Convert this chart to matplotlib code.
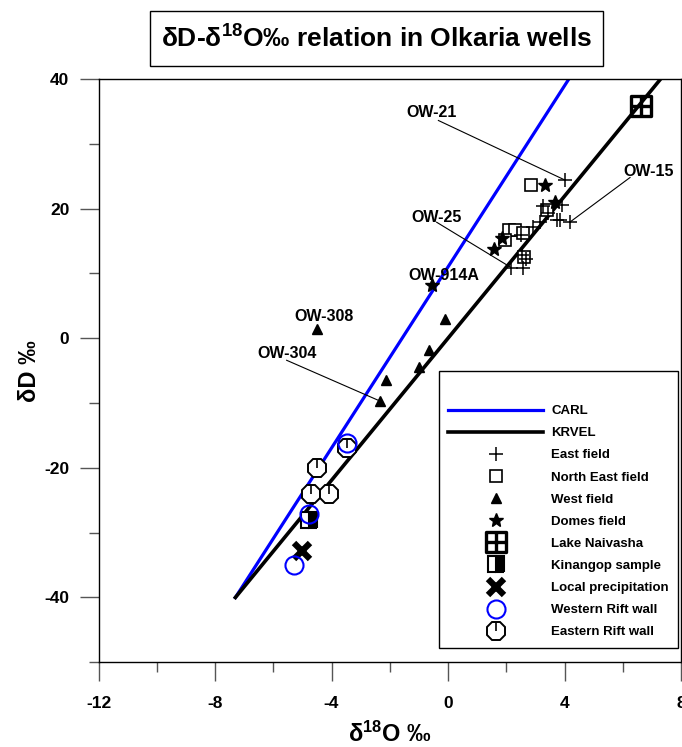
import numpy as np
import matplotlib
matplotlib.use("Agg")
import matplotlib.pyplot as plt
from matplotlib.path import Path
from matplotlib.patches import Rectangle

plt.rcParams["font.family"] = ["Liberation Sans", "DejaVu Sans"]
plt.rcParams["font.weight"] = "bold"
plt.rcParams["axes.unicode_minus"] = False
plt.rcParams["mathtext.fontset"] = "custom"
plt.rcParams["mathtext.rm"] = "Liberation Sans:bold"
plt.rcParams["mathtext.bf"] = "Liberation Sans:bold"
plt.rcParams["mathtext.default"] = "rm"

# meteoric / evaporation lines (end points)
carl_x = [-7.3, 4.15]
carl_y = [-40, 40]
krvel_x = [-7.3, 7.3]
krvel_y = [-40, 40]

# well samples, d18O and dD
east_x = [4.02, 3.90, 3.25, 3.45, 3.73, 3.85, 4.18, 3.16, 2.92, 2.50, 2.55, 2.68, 2.17, 2.57]
east_y = [24.4, 20.6, 20.4, 19.4, 18.2, 18.2, 17.9, 18.0, 17.2, 16.0, 12.8, 12.3, 10.9, 10.8]

ne_x = [2.85, 3.41, 2.10, 2.30, 2.59, 1.96, 2.60]
ne_y = [23.6, 19.8, 16.7, 16.7, 16.3, 15.1, 12.6]

west_x = [-4.49, -0.10, -0.64, -1.00, -2.14, -2.33]
west_y = [1.5, 3.0, -1.85, -4.4, -6.5, -9.7]

domes_x = [3.34, 3.67, 1.84, 1.58, -0.56]
domes_y = [23.6, 21.0, 15.4, 13.7, 8.2]

# other waters
lake_x = [6.63]
lake_y = [35.9]
kinangop_x = [-4.77]
kinangop_y = [-28.1]
precip_x = [-5.02]
precip_y = [-32.8]
wrift_x = [-3.48, -4.77, -5.29]
wrift_y = [-16.2, -27.1, -35.0]
erift_x = [-3.48, -4.49, -4.71, -4.07]
erift_y = [-17.0, -20.0, -24.1, -24.1]

# well labels: name, label position, leader start (None = no leader), sample
well_names = ["OW-21", "OW-15", "OW-25", "OW-914A", "OW-308", "OW-304"]
label_pos = [(-0.56, 34.9), (6.88, 25.8), (-0.39, 18.7), (-0.16, 9.7), (-4.26, 3.3), (-5.54, -2.4)]
leader_from = [(-0.33, 33.6), (6.25, 24.8), (-0.39, 17.9), None, None, (-5.54, -3.4)]
leader_to = [(east_x[0], east_y[0]), (east_x[6], east_y[6]), (east_x[12], east_y[12]),
             None, None, (west_x[5], west_y[5])]

# custom markers
lake_marker = Path(
    [(-1, -1), (1, -1), (1, 1), (-1, 1), (-1, -1), (-1, 0), (1, 0), (0, -1), (0, 1)],
    [Path.MOVETO, Path.LINETO, Path.LINETO, Path.LINETO, Path.CLOSEPOLY,
     Path.MOVETO, Path.LINETO, Path.MOVETO, Path.LINETO],
)
stick_marker = Path(
    [(0, -1), (0, 0), (0, 0.93)],
    [Path.MOVETO, Path.MOVETO, Path.LINETO],
)

fig = plt.figure(figsize=(6.82, 7.47), dpi=100)
ax = fig.add_axes([98.5 / 682, 1 - 662.3 / 747, 582.5 / 682, 583.3 / 747])

ax.plot(carl_x, carl_y, color="#0000ff", lw=2.3, label="CARL", zorder=2)
ax.plot(krvel_x, krvel_y, color="black", lw=2.6, label="KRVEL", zorder=2)

ax.plot(east_x, east_y, ls="none", marker="+", ms=10, mew=1.1, color="black",
        label="East field", zorder=4)
ax.plot(ne_x, ne_y, ls="none", marker="s", ms=8, mew=1.2, mfc="white", mec="black",
        label="North East field", zorder=3)
ax.plot(west_x, west_y, ls="none", marker="^", ms=7.5, color="black",
        label="West field", zorder=4)
ax.plot(domes_x, domes_y, ls="none", marker="*", ms=10.5, color="black",
        label="Domes field", zorder=4)
ax.plot(lake_x, lake_y, ls="none", marker=lake_marker, ms=14, mew=2.4, mfc="none",
        mec="black", label="Lake Naivasha", zorder=4)
ax.plot(kinangop_x, kinangop_y, ls="none", marker="s", ms=12, mew=1.5, fillstyle="right",
        mfc="black", mfcalt="white", mec="black", label="Kinangop sample", zorder=4)
ax.plot(precip_x, precip_y, ls="none", marker="x", ms=12, mew=4.5, color="black",
        label="Local precipitation", zorder=4)
ax.plot(wrift_x, wrift_y, ls="none", marker="o", ms=13, mew=1.5, mfc="none",
        mec="#0000ff", label="Western Rift wall", zorder=5)
oct_h, = ax.plot(erift_x, erift_y, ls="none", marker="8", ms=14, mew=1.4, mfc="white",
                 mec="black", zorder=4)
stick_h, = ax.plot(erift_x, erift_y, ls="none", marker=stick_marker, ms=14, mew=1.2,
                   color="black", zorder=4)

for name, pos, start, end in zip(well_names, label_pos, leader_from, leader_to):
    ax.text(pos[0], pos[1], name, fontsize=11.5, fontweight="bold",
            ha="center", va="center", zorder=6)
    if start is not None:
        ax.plot([start[0], end[0]], [start[1], end[1]], color="black", lw=0.8, zorder=3)

ax.set_xlim(-12, 8)
ax.set_ylim(-50, 40)
ax.set_xticks(np.arange(-12, 9, 4))
ax.set_xticks(np.arange(-10, 8, 4), minor=True)
ax.set_yticks(np.arange(-40, 41, 20))
ax.set_yticks(np.arange(-50, 40, 20), minor=True)
ax.tick_params(which="both", top=False, right=False, direction="out",
               color="#555555", width=1, labelsize=12.5)
ax.tick_params(axis="x", which="major", length=14, pad=10)
ax.tick_params(axis="x", which="minor", length=7)
ax.tick_params(axis="y", which="major", length=14, pad=7)
ax.tick_params(axis="y", which="minor", length=7)
for s in ax.spines.values():
    s.set_linewidth(1)

ax.set_xlabel(r"δ$^{18}$O ‰", fontsize=17, fontweight="bold", labelpad=8)
ax.set_ylabel("δD ‰", fontsize=17, fontweight="bold", labelpad=2)

handles, labels = ax.get_legend_handles_labels()
handles.append((oct_h, stick_h))
labels.append("Eastern Rift wall")
leg = ax.legend(handles, labels, loc="lower right", bbox_to_anchor=(0.995, 0.025),
                borderaxespad=0, numpoints=1, handlelength=7.2, handletextpad=0.6,
                labelspacing=0.75, borderpad=0.7, fancybox=False, framealpha=1,
                edgecolor="black", prop={"weight": "bold", "size": 9.5},
                title=" ", title_fontsize=12)
leg.get_frame().set_linewidth(1)

# boxed title
fig.patches.append(Rectangle((150 / 682, 1 - 66 / 747), 453 / 682, 55 / 747,
                             transform=fig.transFigure, fc="white", ec="black", lw=1))
fig.text(376.5 / 682, 1 - 38.5 / 747, r"δD-δ$^{18}$O‰ relation in Olkaria wells",
         fontsize=19, fontweight="bold", ha="center", va="center")

fig.savefig("out.png", dpi=100)
